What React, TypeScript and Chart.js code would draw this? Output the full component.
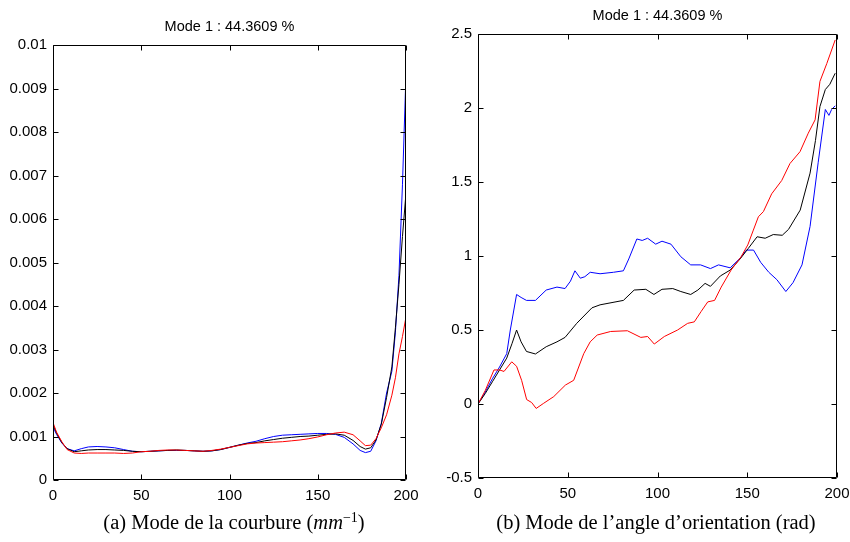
import React, { useEffect, useRef } from "react";
import { Chart, registerables } from "chart.js";

Chart.register(...registerables);

// ---------- shared ----------
const plotTitle = "Mode 1 : 44.3609 %";
const xTicks = [0, 50, 100, 150, 200];
const xTickLabels = ["0", "50", "100", "150", "200"];

// ---------- (a) curvature mode ----------
const leftX = [0, 2, 5, 8, 12, 16, 20, 25, 30, 35, 40, 45, 50, 55, 60, 65, 70, 75, 80, 85, 90, 95, 100, 105, 110, 115, 120, 125, 130, 135, 140, 145, 150, 155, 160, 165, 170, 174, 177, 180, 183, 186, 189, 192, 194, 196, 198, 200];
const leftBlue = [0.00122, 0.00105, 0.00085, 0.00072, 0.00067, 0.00072, 0.00076, 0.00077, 0.00076, 0.00074, 0.0007, 0.00066, 0.00065, 0.00066, 0.00067, 0.00068, 0.00068, 0.00068, 0.00067, 0.00066, 0.00067, 0.0007, 0.00075, 0.0008, 0.00085, 0.00089, 0.00095, 0.001, 0.00103, 0.00104, 0.00105, 0.00106, 0.00107, 0.00107, 0.00105, 0.00098, 0.00083, 0.00068, 0.00063, 0.00066, 0.0009, 0.0013, 0.002, 0.0025, 0.0034, 0.0047, 0.0068, 0.00935];
const leftBlack = [0.00128, 0.00108, 0.00086, 0.00072, 0.00065, 0.00067, 0.00069, 0.0007, 0.0007, 0.00069, 0.00068, 0.00066, 0.00065, 0.00066, 0.00067, 0.00068, 0.00069, 0.00068, 0.00067, 0.00066, 0.00067, 0.0007, 0.00075, 0.0008, 0.00084, 0.00086, 0.0009, 0.00093, 0.00096, 0.00098, 0.001, 0.00101, 0.00103, 0.00105, 0.00106, 0.00103, 0.00091, 0.00077, 0.00071, 0.00074, 0.00092, 0.00128, 0.0019, 0.0026, 0.0035, 0.0045, 0.0056, 0.0066];
const leftRed = [0.00132, 0.0011, 0.00088, 0.0007, 0.00062, 0.00061, 0.00062, 0.00062, 0.00062, 0.00062, 0.00061, 0.00062, 0.00065, 0.00066, 0.00068, 0.00069, 0.00069, 0.00068, 0.00067, 0.00066, 0.00068, 0.00071, 0.00075, 0.00079, 0.00083, 0.00085, 0.00086, 0.00087, 0.00088, 0.0009, 0.00092, 0.00095, 0.00099, 0.00104, 0.00108, 0.0011, 0.00104, 0.0009, 0.00079, 0.0008, 0.00095, 0.0012, 0.0015, 0.00195, 0.00235, 0.0029, 0.0033, 0.00375];
const leftYTicks = [0, 0.001, 0.002, 0.003, 0.004, 0.005, 0.006, 0.007, 0.008, 0.009, 0.01];
const leftYTickLabels = ["0", "0.001", "0.002", "0.003", "0.004", "0.005", "0.006", "0.007", "0.008", "0.009", "0.01"];

// ---------- (b) orientation angle mode ----------
const rightBlueX = [0, 4, 8, 12, 16, 18, 21.5, 24, 27, 32, 38, 44, 48.5, 51.5, 54, 57, 59.5, 62.5, 68, 75.5, 81, 84, 88.5, 91.5, 94.5, 99, 102.5, 107.5, 113, 118.5, 124, 129.5, 134, 140.5, 146, 149.5, 153.5, 157.5, 162, 166.5, 171.5, 175.5, 180.5, 185, 189.5, 193.5, 195.5, 197, 199];
const rightBlue = [0, 0.08, 0.17, 0.25, 0.34, 0.5, 0.74, 0.72, 0.7, 0.7, 0.77, 0.79, 0.78, 0.83, 0.9, 0.85, 0.86, 0.89, 0.88, 0.89, 0.9, 0.98, 1.115, 1.105, 1.12, 1.08, 1.1, 1.08, 0.995, 0.94, 0.94, 0.915, 0.94, 0.92, 0.985, 1.04, 1.04, 0.957, 0.89, 0.84, 0.76, 0.82, 0.94, 1.2, 1.63, 1.99, 1.95, 1.99, 2.015];
const rightBlackX = [0, 4, 8, 12, 16, 19, 21.5, 24, 27, 32, 38, 44, 48.5, 55, 63.5, 68, 81, 87, 93.5, 98, 102.5, 108.5, 113, 118.5, 122.5, 126.5, 129.5, 135, 140.5, 146, 150.5, 155.5, 160, 164.5, 169.5, 173, 179.5, 185, 188, 190.5, 193.5, 196, 199];
const rightBlack = [0, 0.07, 0.15, 0.23, 0.31, 0.41, 0.5, 0.42, 0.355, 0.338, 0.387, 0.42, 0.45, 0.545, 0.65, 0.67, 0.7, 0.77, 0.775, 0.74, 0.775, 0.78, 0.76, 0.74, 0.77, 0.815, 0.795, 0.865, 0.905, 0.98, 1.05, 1.13, 1.12, 1.145, 1.14, 1.18, 1.31, 1.56, 1.78, 2.01, 2.125, 2.16, 2.235];
const rightRedX = [0, 4, 8.9, 12, 14.5, 18.8, 21.5, 24.3, 27.1, 29.9, 32.4, 36.6, 42.2, 48.7, 53.3, 58.9, 62.5, 66.4, 73.9, 83.2, 90.7, 94.5, 98.2, 103.8, 111.2, 116.8, 120.5, 124.3, 128, 131.8, 135.5, 141, 146.6, 150.3, 153.4, 156.2, 159, 163.6, 169.2, 173.8, 179.4, 184, 187.8, 190.5, 194.3, 199];
const rightRed = [0, 0.09, 0.23, 0.23, 0.22, 0.285, 0.255, 0.16, 0.03, 0.01, -0.03, 0.005, 0.05, 0.128, 0.16, 0.34, 0.42, 0.466, 0.49, 0.495, 0.45, 0.456, 0.405, 0.456, 0.5, 0.545, 0.555, 0.625, 0.69, 0.7, 0.79, 0.905, 0.995, 1.075, 1.175, 1.265, 1.3, 1.42, 1.51, 1.625, 1.705, 1.83, 1.92, 2.18, 2.3, 2.46];
const rightYTicks = [-0.5, 0, 0.5, 1, 1.5, 2, 2.5];
const rightYTickLabels = ["-0.5", "0", "0.5", "1", "1.5", "2", "2.5"];

const FONT = '"Liberation Sans", Arial, sans-serif';

const framePlugin = {
  id: "matlabFrame",
  afterDraw(chart: any, _args: any, opts: any) {
    const { ctx, chartArea: a, scales } = chart;
    ctx.save();
    ctx.strokeStyle = "#000";
    ctx.lineWidth = 1;
    const L = Math.round(a.left) + 0.5;
    const R = Math.round(a.right) - 0.5;
    const T = Math.round(a.top) + 0.5;
    const B = Math.round(a.bottom) - 0.5;
    ctx.beginPath();
    ctx.rect(L, T, R - L, B - T);
    const tl = 5;
    scales.x.ticks.forEach((t: any) => {
      const p = Math.round(scales.x.getPixelForValue(t.value)) + 0.5;
      ctx.moveTo(p, B);
      ctx.lineTo(p, B - tl);
      ctx.moveTo(p, T);
      ctx.lineTo(p, T + tl);
    });
    scales.y.ticks.forEach((t: any) => {
      const p = Math.round(scales.y.getPixelForValue(t.value)) + 0.5;
      ctx.moveTo(L, p);
      ctx.lineTo(L + tl, p);
      ctx.moveTo(R, p);
      ctx.lineTo(R - tl, p);
    });
    ctx.stroke();
    ctx.fillStyle = "#000";
    ctx.font = `14.5px ${FONT}`;
    ctx.textAlign = "center";
    ctx.textBaseline = "middle";
    ctx.fillText(opts.title, (a.left + a.right) / 2, a.top - 18);
    ctx.restore();
  },
};

function series(xs: number[], ys: number[], color: string, label: string) {
  return {
    label,
    data: xs.map((x, i) => ({ x, y: ys[i] })),
    borderColor: color,
    backgroundColor: color,
    borderWidth: 1,
    pointRadius: 0,
    fill: false,
    tension: 0,
  };
}

function makeConfig(
  datasets: any[],
  yMin: number,
  yMax: number,
  yTicks: number[],
  yLabels: string[],
  pad: { top: number; right: number },
  xHeight: number
) {
  return {
    type: "line",
    data: { datasets },
    options: {
      animation: false,
      responsive: false,
      maintainAspectRatio: false,
      devicePixelRatio: 1,
      layout: { padding: { top: pad.top, right: pad.right, left: 0, bottom: 0 } },
      plugins: {
        legend: { display: false },
        tooltip: { enabled: false },
        title: { display: false },
        matlabFrame: { title: plotTitle },
      },
      scales: {
        x: {
          type: "linear",
          min: 0,
          max: 200,
          afterBuildTicks: (s: any) => {
            s.ticks = xTicks.map((v) => ({ value: v }));
          },
          afterFit: (s: any) => {
            s.height = xHeight;
            s.paddingLeft = 0;
            s.paddingRight = 0;
          },
          ticks: {
            callback: (_v: any, i: number) => xTickLabels[i],
            font: { family: FONT, size: 15 },
            color: "#000",
            padding: 7,
            maxRotation: 0,
            autoSkip: false,
          },
          grid: { display: false, drawTicks: false },
          border: { display: false },
        },
        y: {
          type: "linear",
          min: yMin,
          max: yMax,
          afterBuildTicks: (s: any) => {
            s.ticks = yTicks.map((v) => ({ value: v }));
          },
          afterFit: (s: any) => {
            s.width = 53;
            s.paddingTop = 0;
            s.paddingBottom = 0;
          },
          ticks: {
            callback: (_v: any, i: number) => yLabels[i],
            font: { family: FONT, size: 15 },
            color: "#000",
            padding: 6,
            autoSkip: false,
          },
          grid: { display: false, drawTicks: false },
          border: { display: false },
        },
      },
    },
    plugins: [framePlugin],
  };
}

function ChartCanvas({ config, left }: { config: any; left: number }) {
  const ref = useRef<HTMLCanvasElement | null>(null);
  useEffect(() => {
    if (!ref.current) return;
    const chart = new Chart(ref.current, config);
    return () => chart.destroy();
  }, [config]);
  return (
    <canvas
      ref={ref}
      width={425}
      height={510}
      style={{ position: "absolute", left, top: 0, width: 425, height: 510 }}
    />
  );
}

const leftConfig = makeConfig(
  [
    series(leftX, leftRed, "#ff0000", "rouge"),
    series(leftX, leftBlack, "#000000", "noir"),
    series(leftX, leftBlue, "#0000ff", "bleu"),
  ],
  0,
  0.01,
  leftYTicks,
  leftYTickLabels,
  { top: 45, right: 19 },
  30
);

const rightConfig = makeConfig(
  [
    series(rightRedX, rightRed, "#ff0000", "rouge"),
    series(rightBlackX, rightBlack, "#000000", "noir"),
    series(rightBlueX, rightBlue, "#0000ff", "bleu"),
  ],
  -0.5,
  2.5,
  rightYTicks,
  rightYTickLabels,
  { top: 34, right: 13 },
  32
);

const captionStyle: React.CSSProperties = {
  position: "absolute",
  top: 508,
  fontFamily: '"Liberation Serif", "Times New Roman", serif',
  fontSize: 20.5,
  lineHeight: "28px",
  color: "#000",
  textAlign: "center",
  whiteSpace: "nowrap",
  transform: "translateX(-50%)",
};

export default function App() {
  return (
    <div
      style={{
        position: "absolute",
        left: 0,
        top: 0,
        width: 850,
        height: 542,
        background: "#fff",
        overflow: "hidden",
      }}
    >
      <ChartCanvas config={leftConfig} left={0} />
      <ChartCanvas config={rightConfig} left={425} />
      <div style={{ ...captionStyle, left: 234 }}>
        (a) Mode de la courbure (<i>mm</i>
        <sup style={{ fontSize: 14, lineHeight: 0, verticalAlign: "7px" }}>−1</sup>)
      </div>
      <div style={{ ...captionStyle, left: 656 }}>(b) Mode de l’angle d’orientation (rad)</div>
    </div>
  );
}
